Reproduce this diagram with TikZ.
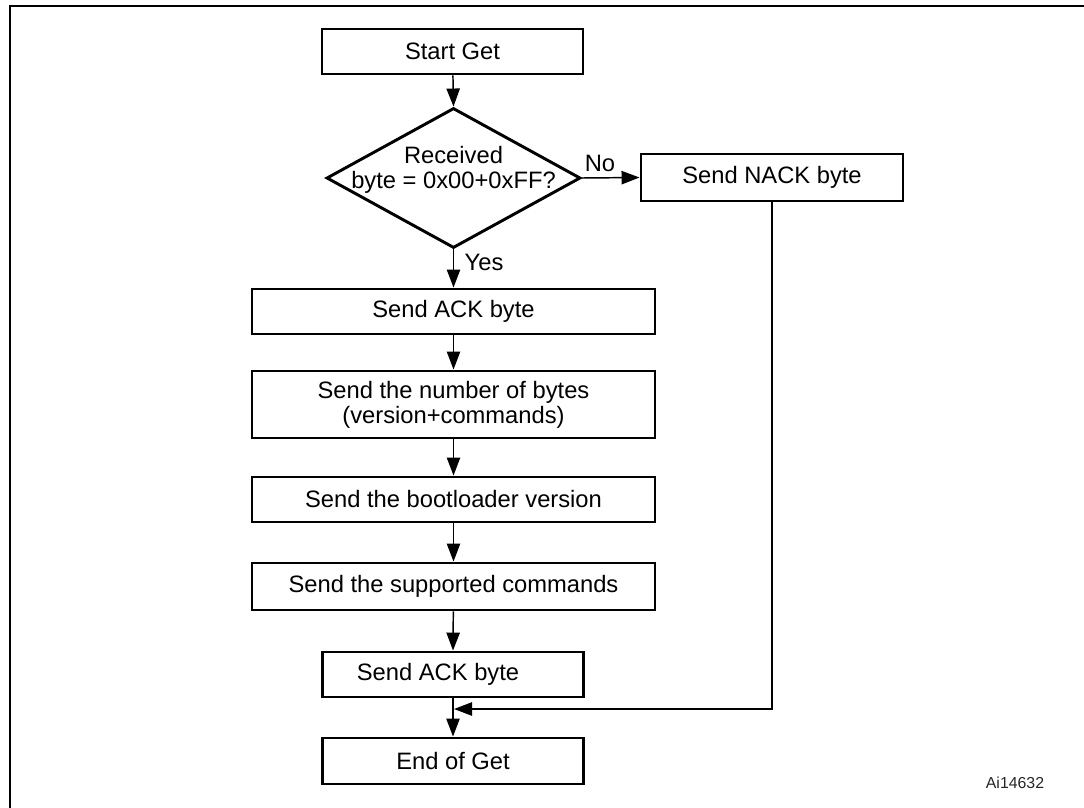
\documentclass[tikz,border=0pt]{standalone}
\usepackage{fontspec}
\setmainfont{Liberation Sans}
\usetikzlibrary{arrows.meta,shapes.geometric}
\begin{document}
\begin{tikzpicture}[x=0.75pt,y=-0.75pt,
  every node/.style={font=\fontsize{17.8}{18.75}\selectfont},
  box/.style={draw,line width=2.2pt,rectangle,inner sep=0pt,align=center},
  wide/.style={box,minimum width=302.25pt},
  narrow/.style={box,minimum width=195.75pt},
  arr/.style={line width=1.1pt,-{Triangle[length=13.5pt,width=10pt]}},
  lbl/.style={inner sep=0pt}]
\useasboundingbox (0,0) rectangle (1084,807);
\begin{scope}
\clip (0,0) rectangle (1084,807);
\draw[line width=1.6pt] (10,6) rectangle (1100,830);
\end{scope}

\node[narrow,minimum height=33.75pt] (start) at (452.5,51.5) {Start Get};
\node[diamond,draw,line width=2.2pt,inner sep=0pt,minimum width=190.5pt,minimum height=105pt] (dec) at (453.5,178) {};
\node[lbl,align=center] (dectext) at (453.5,170) {Received\\byte = 0x00+0xFF?};
\node[box,minimum width=196.5pt,minimum height=35.25pt] (nack) at (772,177.5) {Send NACK byte};
\node[wide,minimum height=33.75pt] (ack1) at (453.5,311.5) {Send ACK byte};
\node[wide,minimum height=50.25pt] (num) at (453.5,404.5) {Send the number of bytes\\(version+commands)};
\node[wide,minimum height=33.75pt] (boot) at (453.5,499.5) {Send the bootloader version};
\node[wide,minimum height=35.25pt] (sup) at (453.5,586.5) {Send the supported commands};
\node[narrow,minimum height=33.75pt] (ack2) at (453,674.5) {Send ACK byte\hspace{22.5pt}};
\node[narrow,minimum height=34.5pt] (end) at (453,761) {End of Get};
\coordinate (join) at (454,709);

\node[lbl] (no) at (600,163) {No};
\node[lbl] (yes) at (484,262) {Yes};
\node[lbl,font=\fontsize{11.9}{13}\selectfont,text=black!85] (ref) at (1015,783) {Ai14632};

\draw[arr] (start) -- (dec.north);
\draw[arr] (dec.east) -- (nack.west);
\draw[arr] (dec.south) -- (ack1.north);
\draw[arr] (ack1) -- (num);
\draw[arr] (num) -- (boot);
\draw[arr] (boot) -- (sup);
\draw[arr] (sup) -- (ack2.north);
\draw[arr] (ack2.south) -- (end.north);
\draw[arr] (nack.south) |- (join);
\end{tikzpicture}
\end{document}
